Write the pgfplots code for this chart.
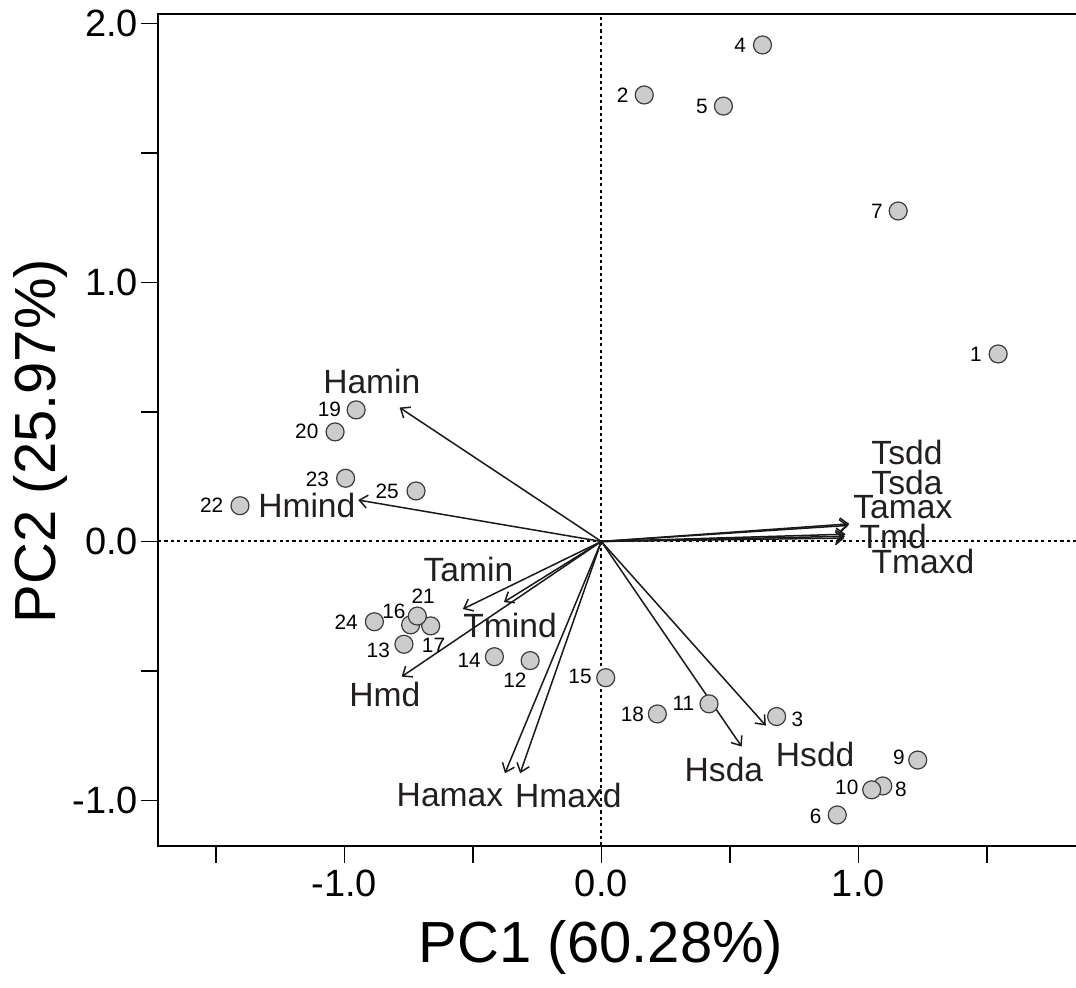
\documentclass[border=0pt]{standalone}
\usepackage{fontspec}
\setmainfont{Liberation Sans}
\usepackage{pgfplots}
\usepackage{pgfplotstable}
\pgfplotsset{compat=1.18}
\usetikzlibrary{arrows.meta}
\definecolor{ptfill}{RGB}{204,204,204}
\definecolor{ptedge}{RGB}{60,60,60}
\definecolor{txt}{RGB}{35,31,32}

\pgfplotstableread{
x y
1.544 0.724
0.167 1.724
0.682 -0.676
0.627 1.917
0.475 1.681
0.918 -1.056
1.155 1.276
1.095 -0.944
1.231 -0.844
1.052 -0.959
0.419 -0.627
-0.277 -0.460
-0.768 -0.397
-0.416 -0.445
0.017 -0.526
-0.742 -0.322
-0.664 -0.326
0.218 -0.666
-0.954 0.508
-1.036 0.423
-0.716 -0.288
-1.406 0.138
-0.995 0.244
-0.883 -0.310
-0.721 0.195
}\scores

\begin{document}
\begin{tikzpicture}
\begin{axis}[
  at={(0,0)}, anchor=south west,
  scale only axis, width=463pt, height=415.8pt,
  xmin=-1.725, xmax=1.878, ymin=-1.174, ymax=2.037,
  axis line style={line width=1pt, black},
  xtick={-1.5,-1,-0.5,0,0.5,1,1.5},
  xticklabels={,-1.0,,0.0,,1.0,},
  ytick={-1,-0.5,0,0.5,1,1.5,2},
  yticklabels={-1.0,,0.0,,1.0,,2.0},
  xtick pos=lower, ytick pos=left,
  tick align=outside,
  major tick length=8.5pt,
  every tick/.style={line width=0.8pt, black},
  tick label style={font=\fontsize{19}{22}\selectfont},
  yticklabel style={xshift=2pt},
  xlabel={PC1 (60.28\%)},
  ylabel={PC2 (25.97\%)},
  label style={font=\fontsize{29}{34}\selectfont},
  xlabel style={at={(axis description cs:0.4785,-0.1221)}, anchor=center},
  ylabel style={at={(axis description cs:-0.1264,0.4865)}, anchor=center},
  clip=false,
]
% reference lines
\addplot[black, line width=1pt, dash pattern=on 1.6pt off 1.6pt] coordinates {(0,-1.174) (0,2.037)};
\addplot[black, line width=1pt, dash pattern=on 1.6pt off 1.6pt] coordinates {(-1.725,0) (1.847,0)};

% loading arrows
\tikzset{ld/.style={black!90, line width=0.75pt, -{Straight Barb[length=4pt,width=6.5pt,line width=0.75pt]}}}
\addplot[ld] coordinates {(0,0) (-0.785,0.517)};  % Hamin
\addplot[ld] coordinates {(0,0) (-0.946,0.160)};  % Hmind
\addplot[ld] coordinates {(0,0) (-0.539,-0.261)}; % Tamin
\addplot[ld] coordinates {(0,0) (-0.379,-0.234)}; % Tmind
\addplot[ld] coordinates {(0,0) (-0.777,-0.522)}; % Hmd
\addplot[ld] coordinates {(0,0) (-0.375,-0.895)}; % Hamax
\addplot[ld] coordinates {(0,0) (-0.316,-0.895)}; % Hmaxd
\addplot[ld] coordinates {(0,0) (0.546,-0.792)};  % Hsda
\addplot[ld] coordinates {(0,0) (0.640,-0.711)};  % Hsdd
\addplot[ld] coordinates {(0,0) (0.965,0.068)};   % Tsdd
\addplot[ld] coordinates {(0,0) (0.962,0.062)};   % Tsda
\addplot[ld] coordinates {(0,0) (0.950,0.028)};   % Tamax
\addplot[ld] coordinates {(0,0) (0.948,0.020)};   % Tmd
\addplot[ld] coordinates {(0,0) (0.946,0.013)};   % Tmaxd

% scores
\addplot[only marks, mark=*, mark size=4.5pt,
  mark options={fill=ptfill, draw=ptedge, line width=0.6pt}] table[x=x,y=y] {\scores};

% variable labels
\begin{scope}[every node/.style={font=\fontsize{16.8}{20}\selectfont, text=txt, inner sep=0pt}]
\node at (axis cs:-0.893,0.617) {Hamin};
\node at (axis cs:-1.146,0.138) {Hmind};
\node at (axis cs:-0.517,-0.107) {Tamin};
\node at (axis cs:-0.355,-0.326) {Tmind};
\node at (axis cs:-0.842,-0.589) {Hmd};
\node at (axis cs:-0.589,-0.979) {Hamax};
\node at (axis cs:-0.128,-0.979) {Hmaxd};
\node at (axis cs:0.477,-0.882) {Hsda};
\node at (axis cs:0.832,-0.824) {Hsdd};
\node at (axis cs:1.189,0.343) {Tsdd};
\node at (axis cs:1.189,0.227) {Tsda};
\node at (axis cs:1.173,0.132) {Tamax};
\node at (axis cs:1.136,0.021) {Tmd};
\node at (axis cs:1.251,-0.078) {Tmaxd};
\end{scope}

% score labels
\begin{scope}[every node/.style={font=\fontsize{10.4}{12}\selectfont, text=black, inner sep=0pt}]
\node at (axis cs:1.457,0.724) {1};
\node at (axis cs:0.083,1.724) {2};
\node at (axis cs:0.763,-0.686) {3};
\node at (axis cs:0.540,1.917) {4};
\node at (axis cs:0.391,1.681) {5};
\node at (axis cs:0.834,-1.063) {6};
\node at (axis cs:1.072,1.276) {7};
\node at (axis cs:1.166,-0.959) {8};
\node at (axis cs:1.158,-0.833) {9};
\node at (axis cs:0.955,-0.949) {10};
\node at (axis cs:0.319,-0.627) {11};
\node at (axis cs:-0.336,-0.535) {12};
\node at (axis cs:-0.868,-0.422) {13};
\node at (axis cs:-0.514,-0.460) {14};
\node at (axis cs:-0.083,-0.522) {15};
\node at (axis cs:-0.807,-0.271) {16};
\node at (axis cs:-0.653,-0.403) {17};
\node at (axis cs:0.121,-0.666) {18};
\node at (axis cs:-1.058,0.510) {19};
\node at (axis cs:-1.146,0.424) {20};
\node at (axis cs:-0.693,-0.210) {21};
\node at (axis cs:-1.516,0.141) {22};
\node at (axis cs:-1.105,0.240) {23};
\node at (axis cs:-0.993,-0.310) {24};
\node at (axis cs:-0.833,0.192) {25};
\end{scope}
\end{axis}
\pgfresetboundingbox
\path[use as bounding box] (-79pt,-70.75pt) rectangle (459pt,422.75pt);
\end{tikzpicture}
\end{document}
